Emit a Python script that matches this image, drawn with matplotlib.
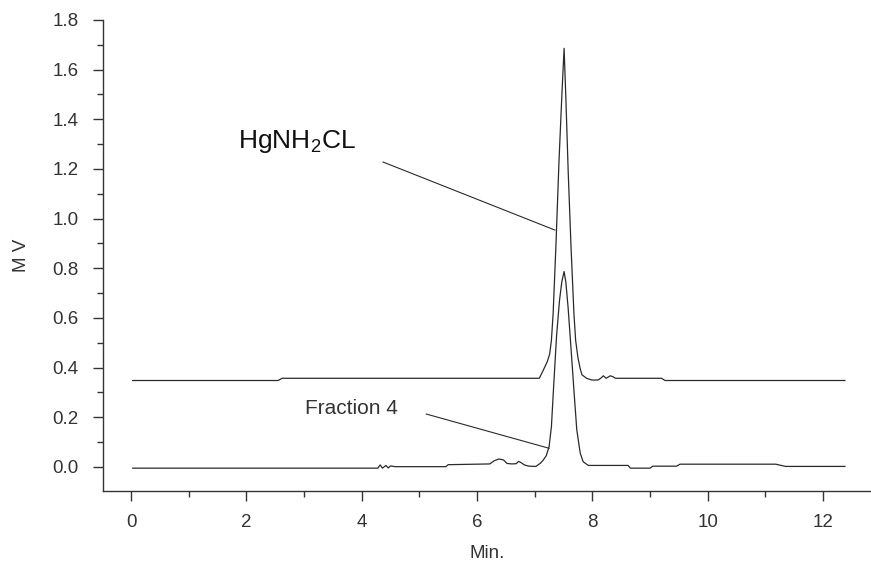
import matplotlib
matplotlib.use("Agg")
import matplotlib.pyplot as plt
from matplotlib.ticker import MultipleLocator

plt.rcParams['font.family'] = ['Liberation Sans', 'DejaVu Sans']
plt.rcParams['mathtext.fontset'] = 'custom'
plt.rcParams['mathtext.rm'] = 'Liberation Sans'
plt.rcParams['mathtext.it'] = 'Liberation Sans'
plt.rcParams['mathtext.default'] = 'regular'

# HgNH2CL standard trace (offset)
upper_t = [0.03, 2.55, 2.62, 7.08, 7.15, 7.22, 7.26, 7.29, 7.32, 7.37, 7.42, 7.47, 7.51,
           7.54, 7.58, 7.63, 7.68, 7.71, 7.75, 7.79, 7.82, 7.90, 7.99, 8.10, 8.15, 8.19,
           8.24, 8.31, 8.36, 8.40, 9.20, 9.26, 12.38]
upper_v = [0.348, 0.348, 0.357, 0.357, 0.390, 0.425, 0.455, 0.510, 0.619, 0.901, 1.223, 1.491, 1.686,
           1.490, 1.196, 0.887, 0.619, 0.510, 0.440, 0.395, 0.371, 0.357, 0.350, 0.350, 0.358, 0.367,
           0.357, 0.367, 0.363, 0.357, 0.357, 0.348, 0.348]

# Fraction 4 trace
lower_t = [0.03, 4.28, 4.32, 4.36, 4.42, 4.46, 4.50, 4.58, 5.46, 5.50, 6.22, 6.30,
           6.38, 6.46, 6.52, 6.60, 6.68, 6.72, 6.76, 6.82, 6.90, 7.02, 7.10, 7.15,
           7.20, 7.25, 7.29, 7.33, 7.38, 7.43, 7.47, 7.51, 7.54, 7.58, 7.62, 7.68, 7.73, 7.79,
           7.84, 7.93, 8.62, 8.66, 9.00, 9.05, 9.46, 9.52, 11.18, 11.35, 12.38]
lower_v = [-0.005, -0.005, 0.008, -0.005, 0.006, -0.004, 0.004, 0.001, 0.001, 0.009, 0.012, 0.025,
           0.032, 0.028, 0.014, 0.012, 0.013, 0.022, 0.018, 0.008, 0.003, 0.002, 0.015, 0.028,
           0.045, 0.082, 0.162, 0.330, 0.530, 0.670, 0.745, 0.787, 0.745, 0.640, 0.510, 0.310, 0.149, 0.055,
           0.021, 0.006, 0.006, -0.005, -0.005, 0.003, 0.003, 0.011, 0.011, 0.002, 0.002]

x_ticks = [0, 2, 4, 6, 8, 10, 12]
y_ticks = [0.0, 0.2, 0.4, 0.6, 0.8, 1.0, 1.2, 1.4, 1.6, 1.8]

label_upper = 'HgNH$_2$CL'
label_lower = 'Fraction 4'
# leader lines (text end -> peak)
lead_upper_t = [4.37, 7.35]
lead_upper_v = [1.228, 0.954]
lead_lower_t = [5.12, 7.25]
lead_lower_v = [0.213, 0.075]

W, H = 871, 566
fig = plt.figure(figsize=(W / 100, H / 100), dpi=100)
ax = fig.add_axes([103 / W, 75 / H, (871 - 103) / W, (491 - 20) / H])

lc = '#2a2a2a'
ax.plot(upper_t, upper_v, color=lc, lw=0.9)
ax.plot(lower_t, lower_v, color=lc, lw=0.9)
ax.plot(lead_upper_t, lead_upper_v, color=lc, lw=0.8)
ax.plot(lead_lower_t, lead_lower_v, color=lc, lw=0.8)

ax.text(1.86, 1.31, label_upper, fontsize=19, color='#111', ha='left', va='center')
ax.text(3.02, 0.235, label_lower, fontsize=15, color='#333', ha='left', va='center')

ax.set_xlim(-0.486, 12.832)
ax.set_ylim(-0.097, 1.8)
ax.set_xticks(x_ticks)
ax.set_yticks(y_ticks)
ax.set_xticklabels([str(v) for v in x_ticks])
ax.set_yticklabels([f'{v:.1f}' for v in y_ticks])
ax.xaxis.set_minor_locator(MultipleLocator(1))
ax.yaxis.set_minor_locator(MultipleLocator(0.1))

for s in ['top', 'right']:
    ax.spines[s].set_visible(False)
for s in ['left', 'bottom']:
    ax.spines[s].set_color('#333')
    ax.spines[s].set_linewidth(1.0)

ax.tick_params(axis='both', which='major', direction='out', length=7.5, width=1.0,
               color='#333', labelsize=13.5, labelcolor='#333')
ax.tick_params(axis='both', which='minor', direction='out', length=4.5, width=1.0, color='#333')
ax.tick_params(axis='y', which='major', pad=10)
ax.tick_params(axis='x', which='major', pad=9)

ax.set_xlabel('Min.', fontsize=13.5, color='#333', labelpad=10)
ax.set_ylabel('M V', fontsize=13.5, color='#333', labelpad=16)

fig.savefig('out.png', dpi=100)
